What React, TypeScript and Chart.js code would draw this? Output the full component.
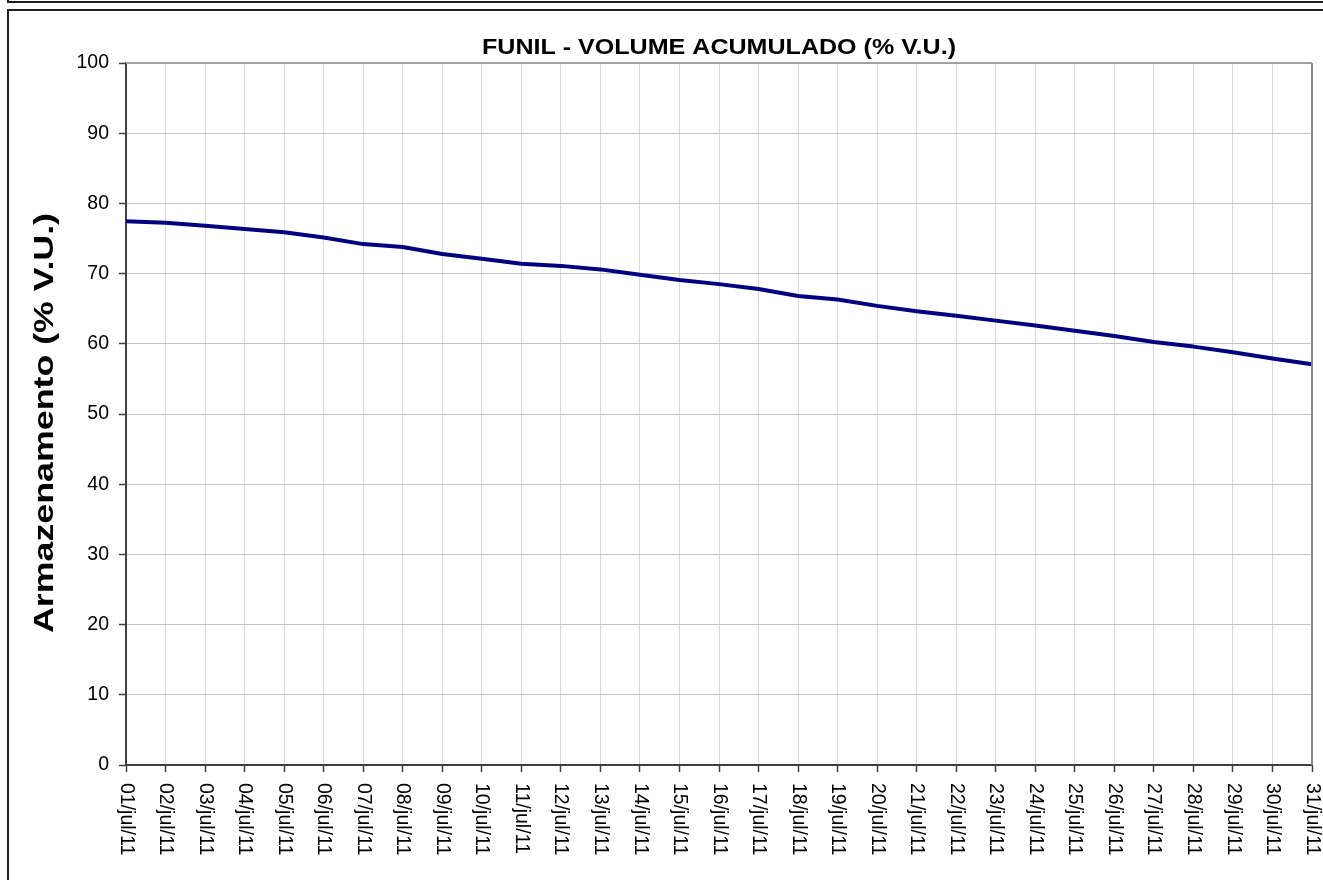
import React, { useEffect, useRef } from "react";
import { Chart, registerables } from "chart.js";

Chart.register(...registerables);

const categories = [
  "01/jul/11", "02/jul/11", "03/jul/11", "04/jul/11", "05/jul/11", "06/jul/11", "07/jul/11", "08/jul/11",
  "09/jul/11", "10/jul/11", "11/jul/11", "12/jul/11", "13/jul/11", "14/jul/11", "15/jul/11", "16/jul/11",
  "17/jul/11", "18/jul/11", "19/jul/11", "20/jul/11", "21/jul/11", "22/jul/11", "23/jul/11", "24/jul/11",
  "25/jul/11", "26/jul/11", "27/jul/11", "28/jul/11", "29/jul/11", "30/jul/11", "31/jul/11",
];

const armazenamento = [
  77.45, 77.25, 76.8, 76.35, 75.9, 75.15, 74.2, 73.8, 72.8, 72.1, 71.4, 71.1, 70.6, 69.85, 69.1, 68.5,
  67.8, 66.8, 66.3, 65.4, 64.65, 64.0, 63.3, 62.6, 61.85, 61.1, 60.25, 59.6, 58.8, 57.9, 57.1,
];

const chartTitle = "FUNIL - VOLUME ACUMULADO (% V.U.)";
const yAxisTitle = "Armazenamento (% V.U.)";
const yMin = 0;
const yMax = 100;
const yStep = 10;

const FONT = "'Liberation Sans', Arial, sans-serif";

function drawStretched(ctx: CanvasRenderingContext2D, text: string, targetWidth: number) {
  const w = ctx.measureText(text).width;
  const sx = w > 0 ? targetWidth / w : 1;
  ctx.scale(sx, 1);
  ctx.fillText(text, 0, 0);
}

const decorPlugin = {
  id: "decor",
  afterDraw(chart: any) {
    const { ctx, chartArea } = chart;
    const xScale = chart.scales.x;
    ctx.save();
    ctx.lineWidth = 2;
    ctx.strokeStyle = "#a0a0a0";
    ctx.beginPath();
    ctx.moveTo(chartArea.left, chartArea.top);
    ctx.lineTo(chartArea.right, chartArea.top);
    ctx.stroke();
    ctx.strokeStyle = "#888888";
    ctx.beginPath();
    ctx.moveTo(chartArea.right, chartArea.top);
    ctx.lineTo(chartArea.right, chartArea.bottom);
    ctx.stroke();

    ctx.fillStyle = "#000";
    ctx.textAlign = "center";
    ctx.textBaseline = "middle";

    // chart title
    ctx.save();
    ctx.font = `bold 22px ${FONT}`;
    ctx.translate((chartArea.left + chartArea.right) / 2, 48);
    drawStretched(ctx, chartTitle, 474);
    ctx.restore();

    // y-axis title
    ctx.save();
    ctx.font = `bold 28px ${FONT}`;
    ctx.translate(45, 423);
    ctx.rotate(-Math.PI / 2);
    drawStretched(ctx, yAxisTitle, 420);
    ctx.restore();

    ctx.font = `19.5px ${FONT}`;
    ctx.textAlign = "left";
    ctx.textBaseline = "middle";
    categories.forEach((lab, i) => {
      const x = xScale.getPixelForValue(i);
      ctx.save();
      ctx.translate(x, chartArea.bottom + 18);
      ctx.rotate(Math.PI / 2);
      ctx.fillText(lab, 0, 0);
      ctx.restore();
    });
    ctx.restore();
  },
};

export default function App() {
  const canvasRef = useRef<HTMLCanvasElement | null>(null);

  useEffect(() => {
    const canvas = canvasRef.current;
    if (!canvas) return;
    const chart = new Chart(canvas, {
      type: "line",
      data: {
        labels: categories,
        datasets: [
          {
            label: yAxisTitle,
            data: armazenamento,
            borderColor: "#000080",
            backgroundColor: "#000080",
            borderWidth: 4,
            pointRadius: 0,
            tension: 0,
            borderJoinStyle: "round",
            borderCapStyle: "butt",
          },
        ],
      },
      options: {
        responsive: false,
        animation: false,
        devicePixelRatio: 1,
        layout: { padding: { left: 0, right: 11, top: 63, bottom: 0 } },
        plugins: {
          legend: { display: false },
          tooltip: { enabled: false },
          title: { display: false },
        },
        scales: {
          x: {
            type: "category",
            offset: false,
            grid: {
              color: "#d8d8d8",
              lineWidth: 1,
              drawTicks: true,
              tickLength: 7,
              tickColor: "#404040",
              tickWidth: 1.5,
            },
            border: { color: "#404040", width: 2 },
            ticks: { display: false, autoSkip: false },
            afterFit(scale: any) {
              scale.height = 115;
            },
          },
          y: {
            min: yMin,
            max: yMax,
            grid: {
              color: "#c4c4c4",
              lineWidth: 1,
              tickLength: 7,
              tickColor: "#404040",
              tickWidth: 1.5,
            },
            border: { color: "#404040", width: 2 },
            ticks: {
              stepSize: yStep,
              color: "#000",
              padding: 10,
              font: { family: FONT, size: 19.5 },
            },
            afterFit(scale: any) {
              scale.width = 126;
            },
          },
        },
      },
      plugins: [decorPlugin],
    });
    return () => chart.destroy();
  }, []);

  return (
    <div
      style={{
        position: "absolute",
        left: 0,
        top: 0,
        width: 1323,
        height: 880,
        overflow: "hidden",
        background: "#fff",
      }}
    >
      <canvas
        ref={canvasRef}
        width={1323}
        height={880}
        style={{ position: "absolute", left: 0, top: 0, width: 1323, height: 880 }}
      />
      <div
        style={{
          position: "absolute",
          left: 7,
          top: -50,
          width: 1400,
          height: 49,
          border: "2px solid #1e1e1e",
          pointerEvents: "none",
        }}
      />
      <div
        style={{
          position: "absolute",
          left: 7,
          top: 9,
          width: 1400,
          height: 1000,
          border: "2px solid #1e1e1e",
          pointerEvents: "none",
        }}
      />
    </div>
  );
}
